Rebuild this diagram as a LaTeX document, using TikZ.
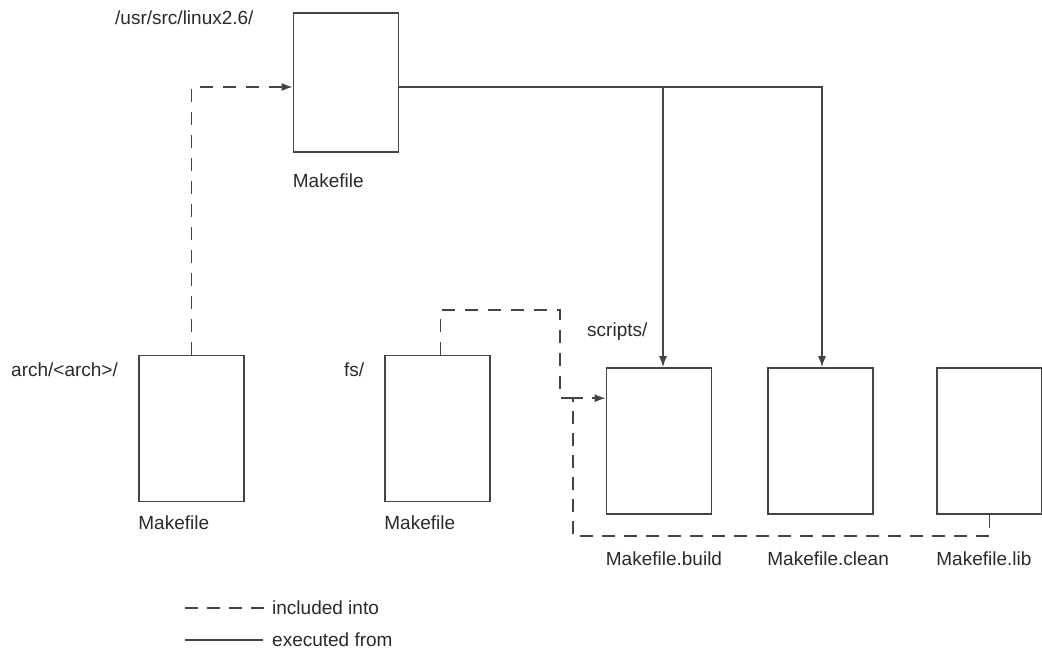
\documentclass[tikz,border=0pt]{standalone}
\usepackage{fontspec}
\setmainfont{Liberation Sans}
\usetikzlibrary{arrows.meta, positioning, calc}
\definecolor{mkLine}{HTML}{444444}
\definecolor{mkText}{HTML}{2A2A2A}

\begin{document}
\begin{tikzpicture}[
  x=1pt, y=-1pt,
  font=\fontsize{19}{22}\selectfont,
  mkfile/.style={draw=mkLine, line width=1.6pt, fill=white, rectangle,
                 inner sep=0pt, minimum width=105pt, minimum height=146pt},
  flbl/.style={text=mkText, inner sep=0pt, anchor=north west},
  dlbl/.style={text=mkText, inner sep=0pt, anchor=west},
  exec/.style={draw=mkLine, line width=1.6pt, -{Latex[length=11pt,width=8pt]}},
  incl/.style={draw=mkLine, line width=1.6pt, dash pattern=on 13pt off 10pt,
               -{Latex[length=11pt,width=8pt]}},
  inclnt/.style={draw=mkLine, line width=1.6pt, dash pattern=on 13pt off 10pt},
]
\useasboundingbox (0,0) rectangle (1042,651);

% ---------------- Makefiles ----------------
\node[mkfile, minimum height=139pt] (top)  at (346,82.5)  {};
\node[mkfile] (arch)  at (191.5,428.5) {};
\node[mkfile] (fs)    at (437.5,428.5) {};
\node[mkfile] (build) at (659,441)     {};
\node[mkfile] (clean) at (820.5,441)   {};
\node[mkfile] (lib)   at (989.5,441)   {};

% ---------------- Directory names ----------------
\node[dlbl] (dtop)     at (115,18)  {/usr/src/linux2.6/};
\node[dlbl] (darch)    at (11,370)  {arch/<arch>/};
\node[dlbl] (dfs)      at (344,370) {fs/};
\node[dlbl] (dscripts) at (587,332) {scripts/};

% ---------------- File names ----------------
\node[flbl, below=21pt of top.south west,   anchor=north west] (ntop)   {Makefile};
\node[flbl, below=13pt of arch.south west,  anchor=north west] (narch)  {Makefile};
\node[flbl, below=13pt of fs.south west,    anchor=north west] (nfs)    {Makefile};
\node[flbl, below=37pt of build.south west, anchor=north west] (nbuild) {Makefile.build};
\node[flbl, below=37pt of clean.south west, anchor=north west] (nclean) {Makefile.clean};
\node[flbl, below=37pt of lib.south west,   anchor=north west] (nlib)   {Makefile.lib};

% ---------------- Executed from ----------------
\coordinate (tapout) at ($(top.east)+(0,4.5)$);
\draw[exec] (tapout) -| ($(build.north)+(4,0)$);
\draw[exec] (tapout) -| ($(clean.north)+(1.5,0)$);

% ---------------- Included into ----------------
\coordinate (entry) at ($(build.north west)+(0,31)$);
\coordinate (fsjog) at (560,310);
\coordinate (libjog) at (573,536);
\draw[incl] (arch.north) |- (tapout -| top.west);
\draw[inclnt] ($(fs.north)+(3,0)$) |- (fsjog) |- (libjog |- entry);
\draw[incl, dash pattern=on 13pt off 9pt] (lib.south) |- (libjog) |- (entry);

% ---------------- Legend ----------------
\node[dlbl] (lgincl) at (272,608) {included into};
\node[dlbl] (lgexec) at (272,640) {executed from};
\draw[inclnt, dash pattern=on 13pt off 9pt] ($(lgincl.west)+(-87,0)$) -- ($(lgincl.west)+(-5,0)$);
\draw[draw=mkLine, line width=1.6pt] ($(lgexec.west)+(-87,0)$) -- ($(lgexec.west)+(-9,0)$);
\end{tikzpicture}
\end{document}
